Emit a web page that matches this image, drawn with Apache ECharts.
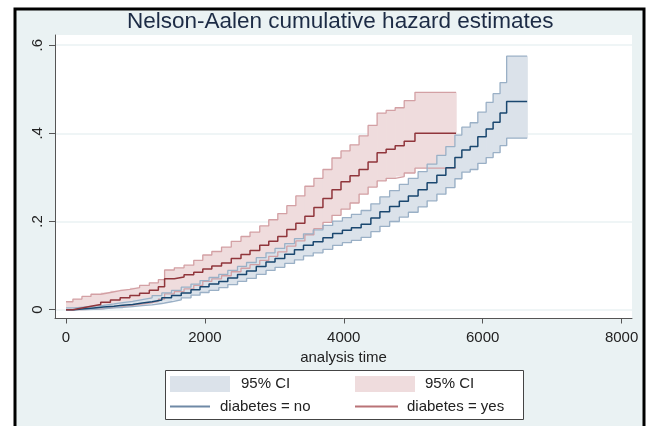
<!DOCTYPE html>
<html><head><meta charset="utf-8">
<script src="https://cdn.jsdelivr.net/npm/echarts@6/dist/echarts.min.js"></script>
<style>html,body{margin:0;padding:0;background:#fff}#c{width:654px;height:426px}</style>
</head><body><div id="c"></div>
<script>
// ---- tick labels ----
const xTicks = [0, 2000, 4000, 6000, 8000];
const yTicks = [0, 0.2, 0.4, 0.6];
const yTickLabels = ['0', '.2', '.4', '.6'];

// ---- diabetes = no ----
const noTime  = [0,120,260,400,540,690,820,960,1100,1240,1380,1520,1660,1800,1930,2060,2200,2330,2470,2600,2740,2880,3010,3150,3290,3420,3560,3700,3840,3980,4110,4250,4390,4520,4660,4800,4930,5070,5200,5340,5470,5600,5700,5820,5930,6050,6150,6250,6345,6640];
const noH     = [0,0.002,0.004,0.006,0.008,0.010,0.012,0.015,0.018,0.022,0.027,0.032,0.038,0.045,0.052,0.058,0.064,0.072,0.080,0.088,0.098,0.108,0.116,0.126,0.136,0.146,0.154,0.163,0.173,0.180,0.186,0.194,0.208,0.222,0.234,0.246,0.258,0.272,0.288,0.305,0.322,0.345,0.362,0.370,0.392,0.410,0.425,0.446,0.472,0.472];
const noUpper = [0.004,0.006,0.008,0.010,0.013,0.016,0.019,0.023,0.027,0.032,0.038,0.044,0.051,0.058,0.066,0.073,0.080,0.089,0.098,0.107,0.118,0.129,0.139,0.150,0.161,0.172,0.181,0.191,0.201,0.209,0.216,0.225,0.240,0.256,0.270,0.284,0.298,0.313,0.330,0.350,0.370,0.396,0.414,0.424,0.448,0.470,0.490,0.515,0.575,0.575];
const noLower = [0,0,0.001,0.002,0.004,0.005,0.007,0.009,0.011,0.014,0.018,0.022,0.027,0.033,0.039,0.044,0.050,0.057,0.064,0.071,0.080,0.089,0.096,0.105,0.113,0.122,0.129,0.137,0.146,0.152,0.157,0.164,0.177,0.189,0.200,0.210,0.221,0.233,0.247,0.262,0.277,0.297,0.312,0.318,0.332,0.345,0.356,0.372,0.389,0.389];

// ---- diabetes = yes ----
const yesTime  = [0,100,230,360,500,640,780,920,1060,1200,1330,1420,1560,1700,1840,1970,2100,2240,2380,2520,2650,2790,2920,3050,3180,3310,3440,3570,3700,3830,3960,4090,4220,4350,4480,4610,4740,4870,5025,5616];
const yesH     = [0,0.004,0.008,0.012,0.017,0.022,0.027,0.032,0.037,0.044,0.052,0.070,0.074,0.079,0.085,0.092,0.099,0.106,0.116,0.125,0.134,0.146,0.155,0.166,0.182,0.196,0.212,0.232,0.252,0.272,0.290,0.304,0.318,0.335,0.356,0.364,0.372,0.382,0.400,0.400];
const yesUpper = [0.018,0.024,0.030,0.035,0.039,0.043,0.046,0.050,0.055,0.061,0.068,0.090,0.095,0.101,0.112,0.124,0.132,0.142,0.155,0.166,0.176,0.190,0.204,0.218,0.236,0.258,0.280,0.298,0.318,0.344,0.360,0.374,0.394,0.418,0.446,0.452,0.458,0.474,0.493,0.493];
const yesLower = [0,0,0.001,0.002,0.004,0.006,0.009,0.012,0.015,0.019,0.024,0.036,0.041,0.047,0.055,0.064,0.070,0.077,0.086,0.094,0.102,0.112,0.121,0.131,0.144,0.156,0.170,0.184,0.198,0.214,0.228,0.242,0.262,0.278,0.292,0.298,0.302,0.310,0.321,0.321];

const legendText = { ci_no: '95% CI', ci_yes: '95% CI', no: 'diabetes = no', yes: 'diabetes = yes' };

const FONT = "'Liberation Sans', Arial, sans-serif";
const C = {
  bg: '#eaf2f3', navy: '#1a476f', maroon: '#90353b',
  noFill: '#dbe2ea', noEdge: '#9ab0c6', yesFill: '#efdcdd', yesEdge: '#d3a0a4'
};

const pairs = (ts, vs) => ts.map((t, i) => [t, vs[i]]);

function band(name, ts, lo, hi, fill) {
  return {
    type: 'custom', name: name, silent: true, clip: true, animation: false,
    data: ts.map((t, i) => [t, lo[i], hi[i], i < ts.length - 1 ? ts[i + 1] : t]),
    encode: { x: [0, 3], y: [1, 2] },
    itemStyle: { color: fill },
    renderItem: function (params, api) {
      const t0 = api.value(0), t1 = api.value(3);
      if (!(t1 > t0)) return null;
      const a = api.coord([t0, api.value(2)]);
      const b = api.coord([t1, api.value(1)]);
      return { type: 'rect', shape: { x: a[0], y: a[1], width: b[0] - a[0] + 0.7, height: b[1] - a[1] },
               style: { fill: fill } };
    }
  };
}
function stepLine(name, ts, vs, color, width) {
  return { type: 'line', name: name, step: 'end', symbol: 'none', silent: true, animation: false,
           data: pairs(ts, vs), lineStyle: { color: color, width: width }, itemStyle: { color: color } };
}

const series = [
  band('ci_yes', yesTime, yesLower, yesUpper, C.yesFill),
  stepLine('yes_hi', yesTime, yesUpper, C.yesEdge, 1.3),
  stepLine('yes_lo', yesTime, yesLower, C.yesEdge, 1.3),
  band('ci_no', noTime, noLower, noUpper, C.noFill),
  stepLine('no_hi', noTime, noUpper, C.noEdge, 1.3),
  stepLine('no_lo', noTime, noLower, C.noEdge, 1.3),
  stepLine('no', noTime, noH, C.navy, 1.5),
  stepLine('yes', yesTime, yesH, C.maroon, 1.5)
];

const legText = { fontFamily: FONT, fontSize: 15, color: '#222' };
function leg(name, left, top, w, h, color, pad) {
  return {
    left: left, top: top, padding: 0, selectedMode: false, itemWidth: w, itemHeight: h,
    formatter: n => legendText[n],
    textStyle: Object.assign({ padding: [0, 0, 0, pad] }, legText),
    data: [{ name: name, icon: 'rect', itemStyle: { color: color, borderWidth: 0, borderColor: 'transparent' } }]
  };
}

const chart = echarts.init(document.getElementById('c'), null, { renderer: 'canvas' });
chart.setOption({
  animation: false,
  backgroundColor: '#ffffff',
  graphic: [
    { type: 'rect', z: -10, silent: true, shape: { x: 15, y: 9, width: 629, height: 460 },
      style: { fill: C.bg, stroke: '#000', lineWidth: 3 } },
    { type: 'rect', z: -5, silent: true, shape: { x: 165.5, y: 370.5, width: 358, height: 49 },
      style: { fill: '#fff', stroke: '#444', lineWidth: 1 } }
  ],
  title: {
    text: 'Nelson-Aalen cumulative hazard estimates', left: 127, top: 10, padding: 0, z: 20,
    textStyle: { fontFamily: FONT, fontSize: 22.5, fontWeight: 'normal', color: '#1c2b45' }
  },
  legend: [
    leg('ci_no', 170, 376, 60, 16, C.noFill, 6),
    leg('ci_yes', 355, 376, 60, 16, C.yesFill, 5),
    leg('no', 170, 399, 40, 2, '#6f89a6', 5),
    leg('yes', 355, 399, 43, 2, '#b97377', 4)
  ],
  grid: { left: 55, right: 22, top: 35, bottom: 107.5, show: true, backgroundColor: '#fff', borderWidth: 0 },
  xAxis: {
    type: 'value', min: -158, max: 8150,
    name: 'analysis time', nameLocation: 'middle', nameGap: 28,
    nameTextStyle: { fontFamily: FONT, fontSize: 15, color: '#222' },
    axisLine: { onZero: false, lineStyle: { color: '#555', width: 1 } },
    axisTick: { show: true, length: 5, customValues: xTicks, lineStyle: { color: '#555' } },
    axisLabel: { customValues: xTicks, margin: 12, fontFamily: FONT, fontSize: 15, color: '#222',
      formatter: v => String(v) },
    splitLine: { show: false }
  },
  yAxis: {
    type: 'value', min: -0.02, max: 0.623,
    axisLine: { show: true, onZero: false, lineStyle: { color: '#555', width: 1 } },
    axisTick: { show: true, length: 6, customValues: yTicks, lineStyle: { color: '#555' } },
    axisLabel: { customValues: yTicks, rotate: 90, margin: 10, fontFamily: FONT, fontSize: 15, color: '#222',
      formatter: v => { const i = yTicks.findIndex(t => Math.abs(t - v) < 1e-9); return i >= 0 ? yTickLabels[i] : ''; } },
    splitLine: { show: true, lineStyle: { color: C.bg, width: 1.5 } }
  },
  series: series
});
</script></body></html>
